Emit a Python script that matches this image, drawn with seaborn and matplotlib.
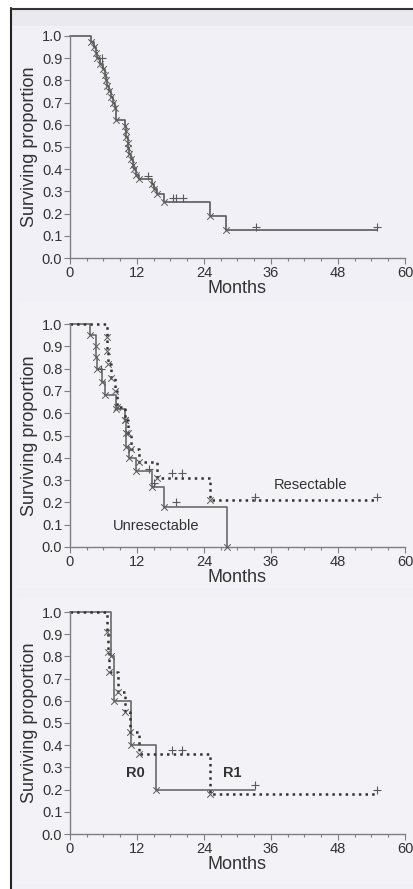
import matplotlib
matplotlib.use('Agg')
import pandas as pd
import matplotlib.pyplot as plt
import seaborn as sns
from matplotlib.patches import Rectangle
from matplotlib.lines import Line2D
from matplotlib.ticker import MultipleLocator

# Panel 1: all patients (event times in months, survival after each event)
all_t = [3.8, 4.3, 4.6, 4.9, 5.3, 5.9, 6.2, 6.5, 6.7, 7.0, 7.3, 7.7, 8.0, 8.3,
         9.8, 10.0, 10.1, 10.3, 10.45, 10.6, 10.9, 11.2, 11.5, 11.9, 12.4,
         14.7, 15.1, 15.6, 16.9, 25.0, 28.0]
all_s = [0.975, 0.95, 0.925, 0.90, 0.875, 0.85, 0.825, 0.80, 0.775, 0.75, 0.725, 0.70, 0.675, 0.62,
         0.595, 0.57, 0.545, 0.52, 0.495, 0.47, 0.445, 0.42, 0.40, 0.375, 0.355,
         0.335, 0.31, 0.29, 0.25, 0.19, 0.125]
all_cens_t = [5.8, 14.0, 18.4, 19.0, 20.2, 33.3, 55.0]
all_cens_s = [0.90, 0.37, 0.27, 0.27, 0.27, 0.14, 0.14]
all_end = 55.0

# Panel 2: unresectable (solid) vs resectable (dotted)
unres_t = [3.6, 4.6, 4.7, 4.8, 5.7, 6.2, 8.2, 9.8, 10.0, 10.1, 10.6, 11.8, 14.6, 16.9, 28.2]
unres_s = [0.95, 0.90, 0.85, 0.80, 0.74, 0.68, 0.62, 0.57, 0.51, 0.45, 0.40, 0.34, 0.27, 0.18, 0.0]
unres_cens_t = [5.5, 14.1, 15.1, 18.9]
unres_cens_s = [0.80, 0.35, 0.285, 0.20]
unres_end = 28.2

res_t = [6.6, 6.7, 6.8, 7.4, 8.0, 8.4, 9.8, 10.4, 10.9, 12.4, 15.5, 25.0]
res_s = [0.94, 0.88, 0.82, 0.76, 0.70, 0.63, 0.57, 0.51, 0.44, 0.38, 0.31, 0.21]
res_cens_t = [18.2, 20.0, 33.2, 55.0]
res_cens_s = [0.33, 0.33, 0.225, 0.225]
res_end = 55.0

# Panel 3: R0 (solid) vs R1 (dotted)
r0_t = [7.3, 7.9, 11.0, 15.4]
r0_s = [0.80, 0.60, 0.40, 0.20]
r0_cens_t = [33.1]
r0_cens_s = [0.22]
r0_end = 33.1

r1_t = [6.7, 6.8, 6.9, 8.6, 9.8, 10.7, 12.4, 25.0]
r1_s = [0.91, 0.82, 0.73, 0.64, 0.55, 0.46, 0.36, 0.18]
r1_cens_t = [18.2, 20.0, 55.0]
r1_cens_s = [0.38, 0.38, 0.20]
r1_end = 55.0

x_ticks = [0, 12, 24, 36, 48, 60]

sns.set_style('white')
plt.rcParams['font.family'] = ['Liberation Sans', 'DejaVu Sans']

W, H = 414, 889
fig = plt.figure(figsize=(W / 100, H / 100), dpi=100, facecolor='white')

# background panel and frame
fig.patches.append(Rectangle((11 / W, 0), 1, 1 - 9 / H, transform=fig.transFigure,
                             facecolor='#f0f0f6', edgecolor='none', zorder=-10))
fig.patches.append(Rectangle((12 / W, 1 - 26 / H), 1, 17 / H, transform=fig.transFigure,
                             facecolor='#e9e9ef', edgecolor='none', zorder=-9))
for top, bot in [(302, 588), (598, 884)]:
    fig.patches.append(Rectangle((17 / W, 1 - bot / H), 1, (bot - top) / H, transform=fig.transFigure,
                                 facecolor='#f2f2f7', edgecolor='none', zorder=-9))
fig.lines.append(Line2D([11.5 / W, 11.5 / W], [0, 1 - 8 / H], transform=fig.transFigure,
                        color='#222222', lw=1.5))
fig.lines.append(Line2D([11 / W, 1], [1 - 8.5 / H, 1 - 8.5 / H], transform=fig.transFigure,
                        color='#333333', lw=1.5))

ink = '#333333'
axis_col = '#808080'


def km_frame(times, surv, end):
    xs = [0.0] + list(times)
    ys = [1.0] + list(surv)
    if end > xs[-1]:
        xs.append(end)
        ys.append(ys[-1])
    return pd.DataFrame({'t': xs, 's': ys})


def draw_curve(ax, times, surv, end, cens_t, cens_s, ls, lw, col):
    df = km_frame(times, surv, end)
    sns.lineplot(data=df, x='t', y='s', ax=ax, drawstyle='steps-post', estimator=None,
                 sort=False, color=col, linestyle=ls, linewidth=lw, clip_on=False)
    sns.scatterplot(x=times, y=surv, ax=ax, marker='x', s=22, color='#5a5a5a',
                    linewidth=0.7, clip_on=False, zorder=3)
    sns.scatterplot(x=cens_t, y=cens_s, ax=ax, marker='+', s=30, color='#5a5a5a',
                    linewidth=0.8, clip_on=False, zorder=3)


def style_axis(ax):
    ax.set_facecolor('none')
    ax.set_xlim(0, 60)
    ax.set_ylim(0, 1.0)
    ax.set_xticks(x_ticks)
    ax.xaxis.set_minor_locator(MultipleLocator(3))
    ax.yaxis.set_major_locator(MultipleLocator(0.1))
    ax.yaxis.set_major_formatter(matplotlib.ticker.FormatStrFormatter('%.1f'))
    for side in ['top', 'right']:
        ax.spines[side].set_visible(False)
    for side in ['left', 'bottom']:
        ax.spines[side].set_color(axis_col)
        ax.spines[side].set_linewidth(1.0)
    ax.tick_params(axis='both', which='major', direction='out', length=4, width=0.8,
                   color=axis_col, labelsize=10.5, labelcolor=ink, pad=1.5,
                   left=True, bottom=True)
    ax.tick_params(axis='x', which='minor', direction='out', length=2.5, width=0.8,
                   color=axis_col, bottom=True)
    ax.set_xlabel('Months', fontsize=13, color=ink, labelpad=0)
    ax.set_ylabel('Surviving proportion', fontsize=13, color=ink, labelpad=3)


# axes placement in pixels: (left, top, right, bottom)
boxes = [(70, 36, 405, 258), (70, 324, 405, 547), (70, 612, 405, 834)]
axes = []
for l, t, r, b in boxes:
    ax = fig.add_axes([l / W, 1 - b / H, (r - l) / W, (b - t) / H])
    style_axis(ax)
    axes.append(ax)

ax1, ax2, ax3 = axes
draw_curve(ax1, all_t, all_s, all_end, all_cens_t, all_cens_s, '-', 1.2, '#5a5a5a')

draw_curve(ax2, unres_t, unres_s, unres_end, unres_cens_t, unres_cens_s, '-', 1.2, '#6a6a6a')
draw_curve(ax2, res_t, res_s, res_end, res_cens_t, res_cens_s, ':', 1.8, '#333333')
ax2.text(43, 0.28, 'Resectable', fontsize=10.5, color=ink, ha='center', va='center')
ax2.text(15.4, 0.095, 'Unresectable', fontsize=10.5, color=ink, ha='center', va='center')

draw_curve(ax3, r0_t, r0_s, r0_end, r0_cens_t, r0_cens_s, '-', 1.2, '#6a6a6a')
draw_curve(ax3, r1_t, r1_s, r1_end, r1_cens_t, r1_cens_s, ':', 1.8, '#333333')
ax3.text(11.7, 0.275, 'R0', fontsize=10.5, fontweight='bold', color=ink, ha='center', va='center')
ax3.text(29.0, 0.275, 'R1', fontsize=10.5, fontweight='bold', color=ink, ha='center', va='center')

fig.savefig('out.png', dpi=100, facecolor=fig.get_facecolor())
